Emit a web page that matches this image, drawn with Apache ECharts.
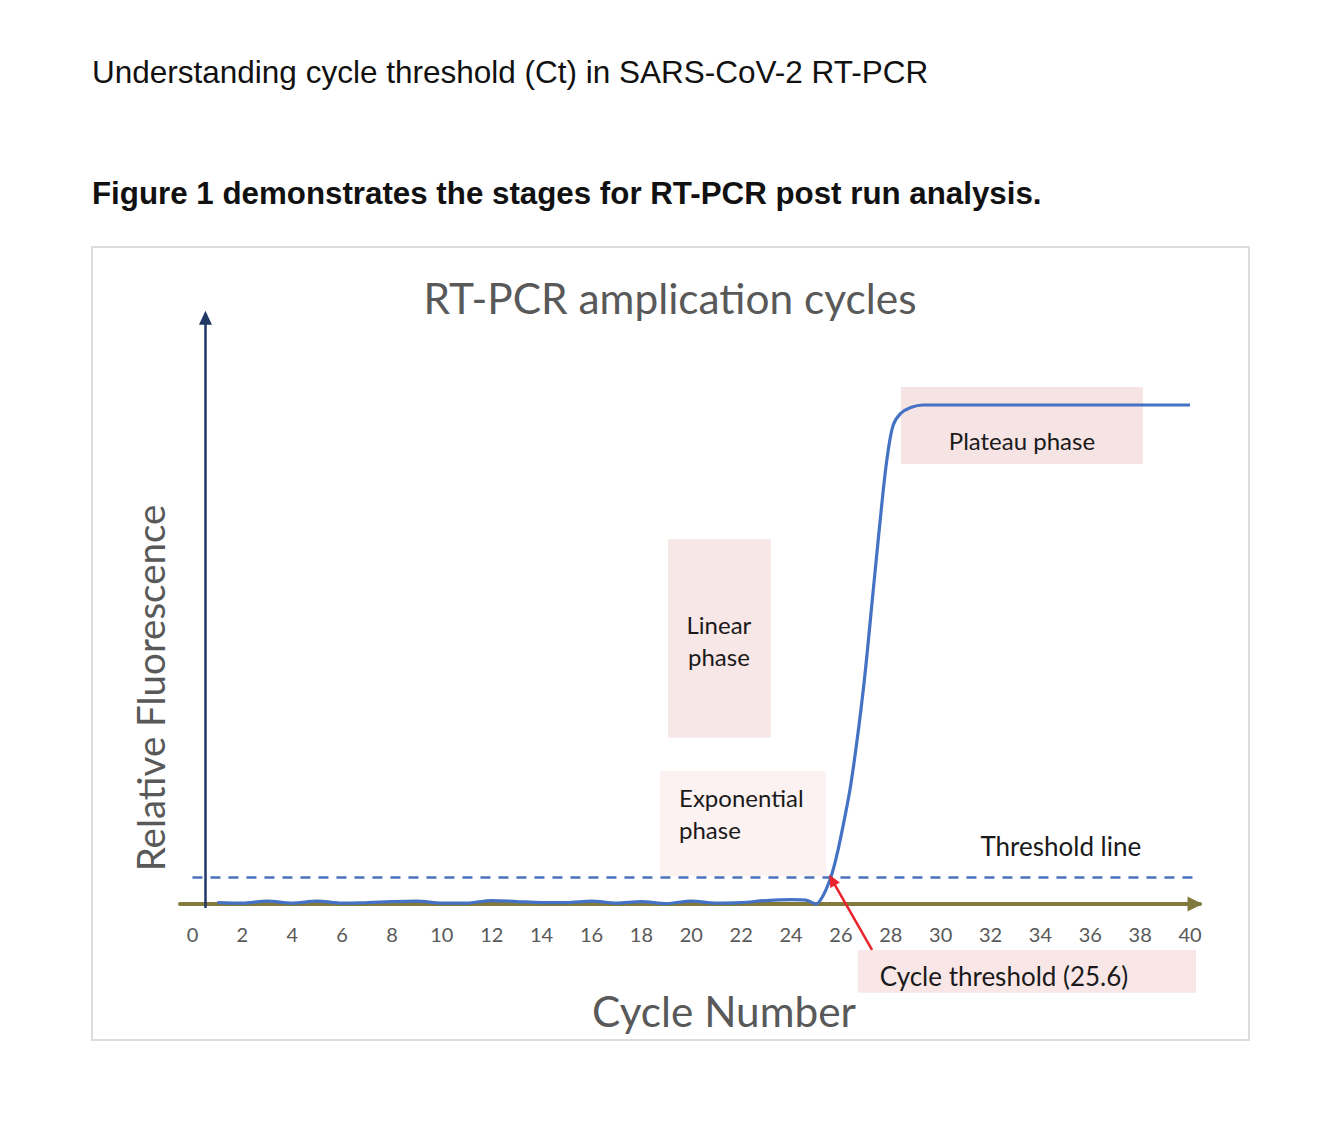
<!DOCTYPE html>
<html><head><meta charset="utf-8">
<script src="https://cdn.jsdelivr.net/npm/echarts@6/dist/echarts.min.js"></script>
<style>html,body{margin:0;padding:0;background:#fff}#c{width:1338px;height:1126px}</style>
</head><body><div id="c"></div>
<script>
// ---- data ----
const cycles = [1,2,3,4,5,6,7,8,9,10,11,12,13,14,15,16,17,18,19,20,21,22,23,24,24.6,25,25.3,25.6,25.8,26,26.4,26.9,27.3,27.7,27.9,28.1,28.4,28.8,29.3,30,35,40];
const fluorescence = [0.3,0.2,0.6,0.2,0.6,0.2,0.3,0.5,0.6,0.2,0.2,0.7,0.5,0.3,0.3,0.6,0.2,0.5,0.1,0.6,0.2,0.3,0.7,0.9,0.8,0.0,1.8,5.4,9,13.5,24,43,63,83,91,96,98.3,99.5,100,100,100,100];
const xTickLabels = [0,2,4,6,8,10,12,14,16,18,20,22,24,26,28,30,32,34,36,38,40];
const thresholdValue = 5.4;
const ctValue = 25.6;

const headerTitle = 'Understanding cycle threshold (Ct) in SARS-CoV-2 RT-PCR';
const figureCaption = 'Figure 1 demonstrates the stages for RT-PCR post run analysis.';
const chartTitle = 'RT-PCR amplication cycles';
const yName = 'Relative Fluorescence';
const xName = 'Cycle Number';

// phase boxes [x0, y0, x1, y1] in data units
const phaseBoxes = [
  {name:'plateau', box:[28.41,88.2,38.11,103.6], color:'#f6e3e3'},
  {name:'linear', box:[19.07,33.3,23.19,73.1], color:'#f7e7e7'},
  {name:'exponential', box:[18.75,5.6,25.4,26.65], color:'#fcf2f2'},
  {name:'ct', box:[26.68,-17.8,40.24,-9.2], color:'#f9e7e7'}
];
// annotation texts [x, y] in data units
const notes = [
  {text:'Plateau phase', at:[33.26,92.8], align:'center', size:24},
  {text:'Linear\nphase', at:[21.11,52.9], align:'center', size:24},
  {text:'Exponential\nphase', at:[19.51,18.2], align:'left', size:24},
  {text:'Threshold line', at:[34.82,11.6], align:'center', size:26},
  {text:'Cycle threshold (' + ctValue + ')', at:[32.54,-14.4], align:'center', size:26}
];

const FONT = 'Lato';
const chart = echarts.init(document.getElementById('c'), null, {renderer:'svg'});

const curve = cycles.map((c,i)=>[c, fluorescence[i]]);

chart.setOption({
  animation:false,
  backgroundColor:'#ffffff',
  grid:{left:180, right:138, top:305.2, bottom:102.2},
  xAxis:{
    type:'value', min:-0.5, max:40.4,
    offset:-119.8,
    axisLine:{onZero:false, symbol:['none','triangle'], symbolSize:[15,15], symbolOffset:[0,-5],
      lineStyle:{color:'#827a3a', width:4}},
    axisTick:{show:false},
    splitLine:{show:false},
    axisLabel:{customValues:xTickLabels, margin:20, fontFamily:FONT, fontSize:20, color:'#595959'}
  },
  yAxis:{
    type:'value', min:-24, max:120, show:false
  },
  series:[
    {
      type:'line', name:'Fluorescence', data:curve,
      showSymbol:false, smooth:0.3,
      lineStyle:{color:'#4472c4', width:3.2}, itemStyle:{color:'#4472c4'},
      z:3,
      markArea:{
        silent:true,
        data: phaseBoxes.map(p=>[
          {coord:[p.box[0],p.box[1]], itemStyle:{color:p.color}},
          {coord:[p.box[2],p.box[3]]}
        ]),
        label:{show:false}
      },
      markLine:{
        silent:true, animation:false,
        label:{show:false},
        data:[
          [{coord:[0,thresholdValue], symbol:'none', lineStyle:{color:'#4a72bd', width:2.5, type:[10,8]}},
           {coord:[40.3,thresholdValue], symbol:'none'}],
          [{coord:[0.52,-0.8], symbol:'none', lineStyle:{color:'#203864', width:2.5, type:'solid'}},
           {coord:[0.52,117.5], symbol:'triangle', symbolSize:[13,14]}],
          [{coord:[27.25,-9.2], symbol:'none', lineStyle:{color:'#e8232c', width:2.5, type:'solid'}},
           {coord:[ctValue+0.05,4.8], symbol:'triangle', symbolSize:[11,12]}]
        ]
      },
      markPoint:{
        silent:true,
        symbol:'rect', symbolSize:0,
        data: notes.map(n=>({
          coord:n.at, value:n.text,
          label:{show:true, position:'inside', formatter:n.text, align:n.align,
            fontFamily:FONT, fontSize:n.size, lineHeight:32, color:'#1a1a1a'}
        }))
      }
    }
  ],
  graphic:[
    {type:'rect', z:-10, shape:{x:92, y:247, width:1157, height:793},
      style:{fill:'none', stroke:'#dcdcdc', lineWidth:2}},
    {type:'text', x:92, y:72, style:{text:headerTitle, fontFamily:'Liberation Sans', fontSize:31.5,
      fill:'#111', verticalAlign:'middle'}},
    {type:'text', x:92, y:193, style:{text:figureCaption, fontFamily:'Liberation Sans', fontSize:31.3,
      fontWeight:'bold', fill:'#111', verticalAlign:'middle'}},
    {type:'text', x:670, y:297, style:{text:chartTitle, fontFamily:FONT, fontSize:42.4,
      fill:'#595959', align:'center', verticalAlign:'middle'}},
    {type:'text', x:150, y:688, rotation:Math.PI/2, style:{text:yName, fontFamily:FONT, fontSize:38.5,
      fill:'#595959', align:'center', verticalAlign:'middle'}},
    {type:'text', x:724, y:1010, style:{text:xName, fontFamily:FONT, fontSize:42.3,
      fill:'#595959', align:'center', verticalAlign:'middle'}}
  ]
});
</script></body></html>
